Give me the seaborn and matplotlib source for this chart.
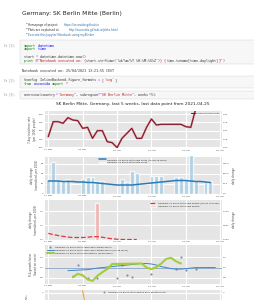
import numpy as np
import pandas as pd
import matplotlib
matplotlib.use("Agg")
import matplotlib.pyplot as plt
import matplotlib.dates as mdates
from matplotlib.patches import Rectangle
import seaborn as sns

sns.set_style("darkgrid", {"axes.facecolor": "#e5e5e5", "grid.color": "white"})
plt.rcParams['font.family'] = ['DejaVu Sans']

# ---- data ----
days = pd.date_range("2021-03-22", "2021-04-25")
nan = np.nan

incidence = [132, 177, 177, 172, 189, 182, 180, 157, 160, 127,
             150, 150, 117, 114, 99, 127, 142, 157, 127, 127,
             160, 185, 167, 169, 169, 169, 169, 169, 162, 160,
             215, 225, 230, 235, 230]

cases = [29, 65, 28, 28, 30, 0, 0, 31, 35, 35,
         26, 27, 0, 0, 0, 30, 25, 46, 42, 0,
         0, 36, 36, 36, 0, 0, 35, 34, 30, 78,
         26, 0, 26, 26, 0]
cases_mean = [26, 26, 26, 25, 25, 25, 24, 24, 23, 23,
              22, 21, 20, 19, 18, 18, 18, 18, 19, 20,
              21, 22, 23, 24, 25, 26, 27, 27, 27, 26,
              25, 25, 24, 23, nan]

deaths = [0, 0, 0, 0, 0, 0, 0, 0, 0, 0,
          0.26, 0, 0, 0, 0, 0, 0, 0, 0, 0,
          0, 0, 0, 0, 0, 0, 0, 0, 0, 0,
          0, 0, 0, 0, 0]
deaths_mean = [0.043, 0.035, 0.028, 0.022, 0.017, 0.014, 0.014, 0.014, 0.016, 0.02,
               0.02, 0.016, 0.01, 0.005, 0.002, 0.0, 0.0, 0.0, 0.0, nan,
               nan, nan, nan, nan, nan, nan, nan, nan, nan, nan,
               nan, nan, nan, nan, nan]

growth_dots = [nan, nan, nan, nan, nan, 0.83, 1.06, nan, 0.80, nan,
               0.80, nan, nan, nan, 0.80, 1.05, 0.85, 0.82, nan, nan,
               nan, 0.88, nan, nan, nan, nan, 0.98, 1.21, 0.96, nan,
               0.97, nan, nan, nan, nan]
growth_mean = [nan, nan, nan, nan, 0.94, 0.945, 0.95, 0.955, 0.96, 0.975,
               0.99, 1.0, 1.01, 1.02, 1.03, 1.04, 1.05, 1.06, 1.07, 1.08,
               1.08, 1.07, 1.05, 1.02, 1.0, 0.98, 0.97, 0.97, 0.98, 0.99,
               1.0, 1.0, 1.0, 1.0, 1.0]
r_estimate = [nan, nan, nan, nan, nan, 0.81, 0.88, 0.85, 0.77, 0.74,
              0.84, 0.91, 0.97, 1.07, nan, nan, nan, nan, nan, 1.08,
              1.0, 0.97, 1.01, 1.08, 1.17, 1.19, 1.12, 1.08, nan, nan,
              nan, nan, nan, nan, nan]
death_growth = [nan, nan, nan, nan, nan, nan, 6.0, 4.27, 1.0, nan,
                nan, nan, nan, nan, nan, nan, nan, nan, nan, nan,
                nan, nan, nan, nan, nan, nan, nan, nan, nan, nan,
                nan, nan, nan, nan, nan]

region = "Germany-SK Berlin Mitte"

W, H = 254, 300
fig = plt.figure(figsize=(W / 100, H / 100), dpi=100)


def fx(x):
    return x / W


def fy(y):
    return 1 - y / H


# ---- notebook header ----
fig.text(fx(21.5), fy(13.3), "Germany: SK Berlin Mitte (Berlin)", fontsize=4.3,
         color="#222222", va="center")
bullets = [("Homepage of project: ", "https://oscovida.github.io", 63.3),
           ("Plots are explained at ", "http://oscovida.github.io/plots.html", 68.3),
           ("", "Execute this Jupyter Notebook using myBinder", 28.5)]
for i, (txt, link, lx) in enumerate(bullets):
    yy = 24.7 + 5 * i
    fig.text(fx(25.5), fy(yy), "\u2022", fontsize=2.2, color="#333333", va="center")
    if txt:
        fig.text(fx(28.5), fy(yy), txt, fontsize=2.1, color="#333333", va="center")
    fig.text(fx(lx), fy(yy), link, fontsize=2.1, color="#296eaa", va="center")


def cell(y0, y1, prompt, py):
    fig.patches.append(Rectangle((fx(20), fy(y1)), fx(240), (y1 - y0) / H,
                                 transform=fig.transFigure, facecolor="#f7f7f7",
                                 edgecolor="#cfcfcf", lw=0.3))
    fig.text(fx(4.5), fy(py), prompt, fontsize=2.0, color="#8a8a9a", va="center",
             family="DejaVu Sans Mono")


def code_line(y, segs, x0=24, fs=2.4):
    cw = 0.602 * fs * 100 / 72 / W
    x = fx(x0)
    for txt, col in segs:
        fig.text(x, fy(y), txt, color=col, fontsize=fs, va="center",
                 family="DejaVu Sans Mono")
        x += len(txt) * cw


K, G, S, T = "#008000", "#0000ff", "#ba2121", "#333333"
cell(40, 64.3, "In [1]:", 45.7)
code_line(45.7, [("import", K), (" datetime", G)])
code_line(49.3, [("import", K), (" time", G)])
code_line(56.7, [("start ", T), ("=", "#aa22ff"), (" datetime.datetime.now()", T)])
code_line(60.7, [("print", K), ("(", T),
                 ("f\"Notebook executed on: {", S),
                 ("start.strftime('%d/%m/%Y %H:%M:%S%Z')", T),
                 ("} {", S), ("time.tzname[time.daylight]", T),
                 ("}\"", S), (")", T)])
code_line(70.7, [("Notebook executed on: 25/04/2021 13:21:55 CEST", T)], x0=22)

cell(76, 88, "In [2]:", 80)
code_line(80, [("%config", T), (" InlineBackend.figure_formats ", T),
               ("=", "#aa22ff"), (" [", T), ("'svg'", S), ("]", T)])
code_line(84, [("from", K), (" oscovida ", G), ("import", K), (" *", T)])

cell(90.5, 99, "In [3]:", 94.7)
code_line(94.7, [("overview(country", T), ("=", "#aa22ff"), ("\"Germany\"", S),
                 (", subregion", T), ("=", "#aa22ff"), ("\"SK Berlin Mitte\"", S),
                 (", weeks", T), ("=", "#aa22ff"), ("5", "#008800"), (");", T)])

# ---- chart panels ----
fs_tick = 1.7
fs_lab = 1.9


def panel(top, bottom):
    return fig.add_axes([fx(45), fy(bottom), fx(176.7), (bottom - top) / H])


def style(ax, ylab):
    ax.set_xlim(pd.Timestamp("2021-03-21 08:00"), pd.Timestamp("2021-04-26 07:00"))
    ax.xaxis.set_major_locator(mdates.WeekdayLocator(byweekday=mdates.MO))
    ax.xaxis.set_major_formatter(mdates.DateFormatter("%d %b"))
    ax.tick_params(labelsize=fs_tick, pad=1, length=0, colors="#444444")
    ax.set_ylabel(ylab, fontsize=fs_lab, color="#444444", labelpad=1.5)
    ax.set_xlabel("")
    for s in ax.spines.values():
        s.set_visible(False)


def twin(ax, lim, ticks, labels, ylab=""):
    t = ax.twinx()
    t.set_ylim(*lim)
    t.set_yticks(ticks)
    t.set_yticklabels(labels)
    t.grid(False)
    t.tick_params(labelsize=fs_tick, pad=1, length=0, colors="#444444")
    t.set_ylabel(ylab, fontsize=fs_lab, color="#444444", labelpad=1.5)
    for s in t.spines.values():
        s.set_visible(False)
    return t


df = pd.DataFrame({"day": days, "incidence": incidence, "cases": cases,
                   "cases_mean": cases_mean, "deaths": deaths,
                   "deaths_mean": deaths_mean, "growth_dots": growth_dots,
                   "growth_mean": growth_mean, "r": r_estimate,
                   "death_growth": death_growth})

fig.text(fx(133), fy(104.3),
         "SK Berlin Mitte, Germany, last 5 weeks, last data point from 2021-04-25",
         fontsize=3.1, color="#222222", ha="center", va="center")

# panel 1: incidence
ax1 = panel(111, 148)
sns.lineplot(data=df, x="day", y="incidence", ax=ax1, color="#e58a96", lw=1.4)
sns.lineplot(data=df, x="day", y="incidence", ax=ax1, color="#7a1c2a", lw=0.8,
             label=region)
ax1.set_ylim(98, 209)
ax1.set_yticks([100, 125, 150, 175, 200])
style(ax1, "7-day incidence rate\n(per 100K people)")
ax1.legend(loc="upper right", fontsize=1.4, frameon=False, handlelength=2)
twin(ax1, (98, 209), [100, 125, 150, 175, 200], ["1.00", "1.25", "1.50", "1.75", "2.00"])

# panel 2: cases
ax2 = panel(156.5, 194)
ax2.bar(df["day"], df["cases"], width=0.8, color="#9ecae1", alpha=0.75,
        label=region + " new cases")
sns.lineplot(data=df, x="day", y="cases_mean", ax=ax2, color="#2c7bb6", lw=1.1,
             label=region + " new cases (rolling 7d-mean)")
ax2.set_ylim(0, 75)
ax2.set_yticks([0, 20, 40, 60])
style(ax2, "daily change\n(normalised, per 100K)")
ax2.legend(loc="upper center", fontsize=1.6, frameon=False, handlelength=3)
twin(ax2, (0, 75 * 3.75), [0, 75, 150, 225], ["0.0", "75.0", "150.0", "225.0"],
     "daily change")

# panel 3: deaths
ax3 = panel(200, 239.5)
ax3.bar(df["day"], df["deaths"], width=0.8, color="#f4a3a3", alpha=0.75,
        label=region + " new deaths")
sns.lineplot(data=df, x="day", y="deaths_mean", ax=ax3, color="#e8333c", lw=0.9,
             linestyle="--", label=region + " new deaths (rolling 7d-mean)")
ax3.set_ylim(0, 0.278)
ax3.set_yticks([0, 0.1, 0.2])
style(ax3, "daily change\n(normalised, per 100K)")
ax3.legend(loc="upper right", fontsize=1.6, frameon=False, handlelength=3)
twin(ax3, (0, 0.278), [0, 0.1, 0.2], ["0.000", "0.551", "1.102"], "daily change")

# panel 4: growth factor / R
ax4 = panel(244.5, 284)
ax4.axhline(1.0, color="#4a6fa5", lw=0.5, alpha=0.8)
sns.scatterplot(data=df, x="day", y="growth_dots", ax=ax4, color="#7f8fab", s=2.5,
                linewidth=0, label=region + " cases daily growth factor")
sns.lineplot(data=df, x="day", y="growth_mean", ax=ax4, color="#3f86c6", lw=0.7,
             label=region + " cases daily growth factor (rolling mean)")
sns.lineplot(data=df, x="day", y="r", ax=ax4, color="#a5cc3a", lw=1.5,
             label=region + " estimated R (using cases)")
ax4.set_ylim(0.68, 1.45)
ax4.set_yticks([0.8, 1.0, 1.2])
style(ax4, "R & growth factor\n(based on cases)")
ax4.legend(loc="upper left", fontsize=1.6, frameon=False, handlelength=3)
twin(ax4, (0.68, 1.45), [0.8, 1.0, 1.2], ["0.8", "1.0", "1.2"])

# panel 5: deaths growth factor (cut off by the page)
ax5 = panel(289.5, 329)
sns.lineplot(data=df, x="day", y="death_growth", ax=ax5, color="#f5a02a", lw=0.8)
sns.scatterplot(x=[pd.Timestamp("2030-01-01")], y=[0], ax=ax5, color="#7f8fab", s=2.5,
                label=region + " deaths daily growth factor")
ax5.set_ylim(0, 4.35)
ax5.set_yticks([4])
style(ax5, "")
ax5.tick_params(labelbottom=False)
ax5.set_ylabel("")
fig.text(fx(27), fy(297), "daily\ngrowth", fontsize=1.6, color="#444444",
         rotation=90, ha="center", va="center")
ax5.legend(loc="upper center", fontsize=1.6, frameon=False)
twin(ax5, (0, 4.35), [4], ["4"])

fig.savefig("out.png", dpi=100)
